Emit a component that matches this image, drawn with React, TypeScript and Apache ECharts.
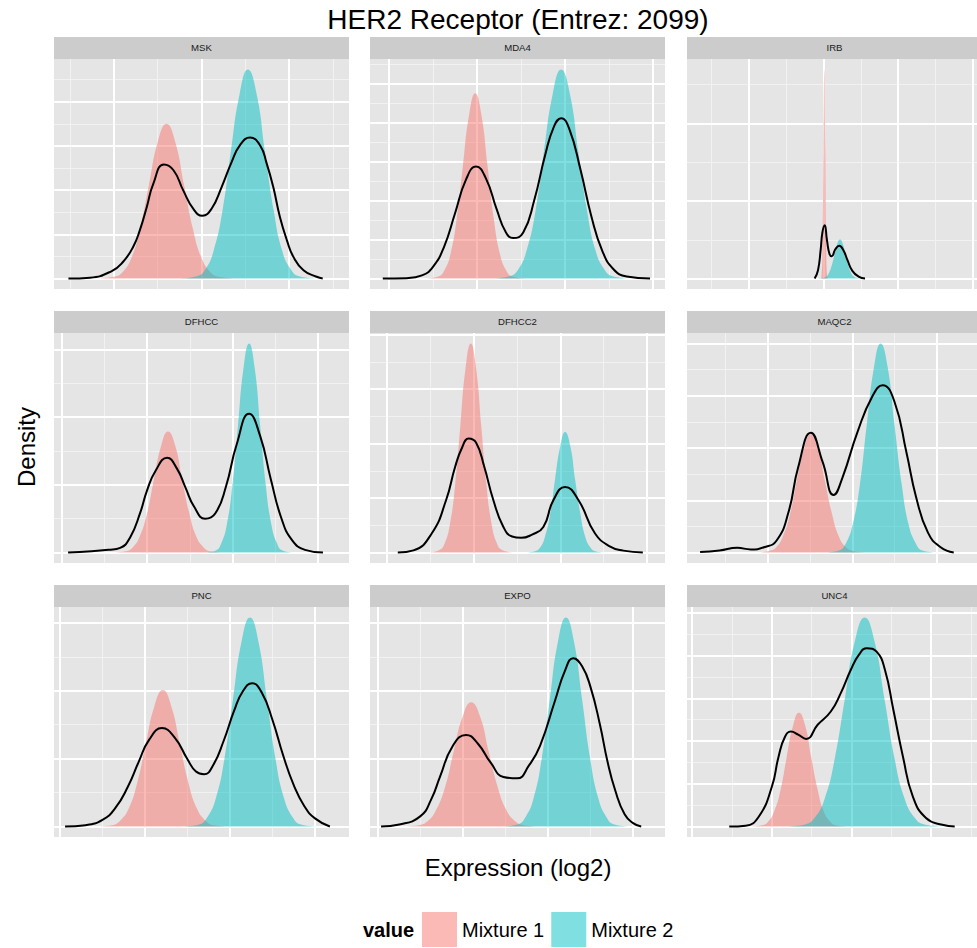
import React, { useEffect, useRef } from "react";
import * as echarts from "echarts";

// ---------------- data ----------------
const panelNames = ["MSK", "MDA4", "IRB", "DFHCC", "DFHCC2", "MAQC2", "PNC", "EXPO", "UNC4"];

// x-axis limits per panel (expression, log2)
const xLimits = [
  [4.63, 11.37], [5.57, 12.27], [2.34, 10.11],
  [3.82, 10.73], [3.62, 10.41], [4.09, 10.95],
  [3.86, 10.8], [3.81, 10.75], [3.87, 11.15],
];
// major break steps per panel
const xBreakStep = [2, 2, 2, 2, 2, 2, 2, 2, 2];
const yBreakStep = [0.1, 0.1, 2, 0.1, 0.2, 0.1, 0.1, 0.1, 0.1];

const mskM1 = [[5.6,0],[6.0,0.004],[6.2,0.015],[6.4,0.047],[6.6,0.114],[6.8,0.212],[7.0,0.309],[7.2,0.35],[7.4,0.309],[7.6,0.212],[7.8,0.114],[8.0,0.047],[8.2,0.015],[8.4,0.004],[8.8,0]];
const mskM2 = [[7.5,0],[7.89,0.005],[8.09,0.021],[8.28,0.064],[8.48,0.154],[8.67,0.287],[8.87,0.417],[9.06,0.473],[9.26,0.417],[9.45,0.287],[9.65,0.154],[9.84,0.064],[10.04,0.021],[10.23,0.005],[10.62,0]];
const mskTotal = [[4.96,0],[5.45,0.002],[5.95,0.017],[6.21,0.038],[6.44,0.072],[6.59,0.109],[6.75,0.162],[6.9,0.215],[7.14,0.258],[7.36,0.245],[7.58,0.2],[7.81,0.158],[8.02,0.142],[8.23,0.158],[8.46,0.207],[8.69,0.264],[8.88,0.302],[9.11,0.319],[9.34,0.301],[9.49,0.26],[9.64,0.207],[9.79,0.14],[9.95,0.087],[10.1,0.049],[10.33,0.019],[10.63,0.004],[10.77,0]];

const mda4M1 = [[6.84,0],[7.12,0.005],[7.26,0.021],[7.4,0.064],[7.54,0.155],[7.68,0.289],[7.82,0.42],[7.96,0.476],[8.1,0.42],[8.24,0.289],[8.38,0.155],[8.52,0.064],[8.66,0.021],[8.8,0.005],[9.08,0]];
const mda4M2 = [[8.35,0],[8.74,0.006],[8.94,0.024],[9.13,0.073],[9.33,0.174],[9.52,0.326],[9.72,0.474],[9.91,0.537],[10.11,0.474],[10.3,0.326],[10.5,0.174],[10.69,0.073],[10.89,0.024],[11.08,0.006],[11.47,0]];
const mda4Total = [[5.86,0],[6.4,0.001],[6.75,0.008],[7.0,0.03],[7.25,0.081],[7.5,0.167],[7.75,0.254],[7.98,0.288],[8.2,0.258],[8.45,0.177],[8.65,0.12],[8.82,0.104],[9.05,0.118],[9.3,0.201],[9.55,0.318],[9.75,0.391],[9.91,0.412],[10.1,0.383],[10.35,0.28],[10.6,0.159],[10.85,0.07],[11.1,0.024],[11.4,0.005],[11.93,0]];

const irbM1 = [[5.92,0],[5.945,0.06],[5.97,0.73],[5.995,3.27],[6.02,5.39],[6.045,3.27],[6.07,0.73],[6.095,0.06],[6.12,0]];
const irbM2 = [[5.84,0],[5.99,0.011],[6.065,0.044],[6.14,0.136],[6.215,0.327],[6.29,0.61],[6.365,0.888],[6.44,1.006],[6.515,0.888],[6.59,0.61],[6.665,0.327],[6.74,0.136],[6.815,0.044],[6.89,0.011],[7.04,0]];
const irbTotal = [[5.76,0],[5.85,0.214],[5.92,0.731],[5.97,1.204],[6.03,1.376],[6.09,0.989],[6.16,0.628],[6.22,0.576],[6.31,0.748],[6.42,0.843],[6.53,0.731],[6.64,0.473],[6.77,0.198],[6.95,0.043],[7.11,0]];

const dfhccM1 = [[5.17,0],[5.5,0.002],[5.67,0.008],[5.83,0.024],[6.0,0.058],[6.16,0.108],[6.33,0.158],[6.49,0.179],[6.66,0.158],[6.82,0.108],[6.99,0.058],[7.15,0.024],[7.32,0.008],[7.48,0.002],[7.81,0]];
const dfhccM2 = [[7.35,0],[7.61,0.003],[7.74,0.014],[7.87,0.042],[8.0,0.1],[8.13,0.187],[8.26,0.273],[8.39,0.309],[8.52,0.273],[8.65,0.187],[8.78,0.1],[8.91,0.042],[9.04,0.014],[9.17,0.003],[9.43,0]];
const dfhccTotal = [[4.15,0],[4.7,0.002],[5.1,0.004],[5.37,0.007],[5.6,0.022],[5.84,0.059],[6.0,0.092],[6.2,0.121],[6.47,0.14],[6.7,0.124],[6.9,0.096],[7.1,0.068],[7.36,0.05],[7.6,0.058],[7.85,0.098],[8.1,0.16],[8.39,0.205],[8.65,0.172],[8.9,0.108],[9.15,0.05],[9.4,0.018],[9.7,0.004],[10.12,0]];

const dfhcc2M1 = [[4.98,0],[5.22,0.009],[5.34,0.034],[5.46,0.104],[5.58,0.249],[5.7,0.466],[5.82,0.678],[5.94,0.768],[6.06,0.678],[6.18,0.466],[6.3,0.249],[6.42,0.104],[6.54,0.034],[6.66,0.009],[6.9,0]];
const dfhcc2M2 = [[7.19,0],[7.42,0.005],[7.54,0.019],[7.65,0.06],[7.77,0.144],[7.88,0.269],[8.0,0.391],[8.11,0.443],[8.23,0.391],[8.34,0.269],[8.46,0.144],[8.57,0.06],[8.69,0.019],[8.8,0.005],[9.03,0]];
const dfhcc2Total = [[4.26,0],[4.62,0.008],[5.04,0.07],[5.37,0.192],[5.58,0.315],[5.74,0.386],[5.89,0.419],[6.06,0.404],[6.25,0.315],[6.46,0.192],[6.69,0.094],[6.89,0.059],[7.1,0.054],[7.35,0.066],[7.61,0.094],[7.84,0.192],[8.11,0.241],[8.42,0.192],[8.8,0.07],[9.15,0.022],[9.45,0.007],[9.9,0]];

const maqc2M1 = [[5.7,0],[6.03,0.003],[6.2,0.01],[6.36,0.031],[6.53,0.074],[6.69,0.138],[6.86,0.2],[7.02,0.227],[7.19,0.2],[7.35,0.138],[7.52,0.074],[7.68,0.031],[7.85,0.01],[8.01,0.003],[8.34,0]];
const maqc2M2 = [[7.35,0],[7.68,0.004],[7.85,0.018],[8.01,0.054],[8.18,0.13],[8.34,0.243],[8.51,0.353],[8.67,0.4],[8.84,0.353],[9.0,0.243],[9.17,0.13],[9.33,0.054],[9.5,0.018],[9.66,0.004],[9.99,0]];
const maqc2Total = [[4.4,0.001],[4.86,0.004],[5.28,0.009],[5.6,0.006],[5.91,0.01],[6.21,0.023],[6.49,0.077],[6.72,0.163],[7.02,0.229],[7.3,0.173],[7.56,0.11],[7.77,0.144],[8.12,0.23],[8.47,0.298],[8.72,0.32],[9.0,0.288],[9.28,0.192],[9.51,0.106],[9.79,0.038],[10.09,0.01],[10.4,0]];

const pncM1 = [[4.82,0],[5.22,0.002],[5.42,0.009],[5.62,0.027],[5.82,0.065],[6.02,0.122],[6.22,0.177],[6.42,0.201],[6.62,0.177],[6.82,0.122],[7.02,0.065],[7.22,0.027],[7.42,0.009],[7.62,0.002],[8.02,0]];
const pncM2 = [[6.87,0],[7.27,0.003],[7.47,0.014],[7.67,0.042],[7.87,0.1],[8.07,0.187],[8.27,0.272],[8.47,0.308],[8.67,0.272],[8.87,0.187],[9.07,0.1],[9.27,0.042],[9.47,0.014],[9.67,0.003],[10.07,0]];
const pncTotal = [[4.12,0],[4.6,0.002],[5.0,0.01],[5.3,0.027],[5.6,0.059],[5.85,0.095],[6.1,0.128],[6.4,0.145],[6.7,0.131],[7.0,0.099],[7.2,0.081],[7.39,0.077],[7.6,0.09],[7.85,0.126],[8.1,0.171],[8.3,0.199],[8.52,0.211],[8.75,0.197],[9.0,0.157],[9.25,0.105],[9.5,0.061],[9.75,0.03],[10.0,0.012],[10.35,0]];

const expoM1 = [[4.55,0],[4.96,0.002],[5.17,0.008],[5.37,0.025],[5.58,0.059],[5.78,0.111],[5.99,0.162],[6.19,0.183],[6.4,0.162],[6.6,0.111],[6.81,0.059],[7.01,0.025],[7.22,0.008],[7.42,0.002],[7.83,0]];
const expoM2 = [[6.9,0],[7.28,0.003],[7.47,0.014],[7.66,0.042],[7.85,0.1],[8.04,0.187],[8.23,0.272],[8.42,0.308],[8.61,0.272],[8.8,0.187],[8.99,0.1],[9.18,0.042],[9.37,0.014],[9.56,0.003],[9.94,0]];
const expoTotal = [[4.07,0],[4.5,0.003],[4.99,0.015],[5.25,0.04],[5.46,0.074],[5.75,0.118],[6.07,0.135],[6.35,0.122],[6.65,0.094],[6.95,0.073],[7.27,0.071],[7.55,0.09],[7.81,0.119],[8.16,0.185],[8.4,0.23],[8.59,0.248],[8.8,0.236],[9.0,0.205],[9.22,0.15],[9.4,0.095],[9.58,0.053],[9.8,0.018],[10.0,0.005],[10.19,0]];

const unc4M1 = [[5.44,0],[5.75,0.003],[5.91,0.012],[6.06,0.036],[6.22,0.086],[6.37,0.161],[6.53,0.235],[6.68,0.266],[6.84,0.235],[6.99,0.161],[7.15,0.086],[7.3,0.036],[7.46,0.012],[7.61,0.003],[7.92,0]];
const unc4M2 = [[6.33,0],[6.83,0.005],[7.08,0.021],[7.33,0.066],[7.58,0.159],[7.83,0.297],[8.08,0.432],[8.33,0.489],[8.58,0.432],[8.83,0.297],[9.08,0.159],[9.33,0.066],[9.58,0.021],[9.83,0.005],[10.33,0]];
const unc4Total = [[4.93,0],[5.34,0.002],[5.67,0.023],[6.0,0.093],[6.17,0.164],[6.33,0.21],[6.48,0.222],[6.66,0.215],[6.86,0.205],[7.15,0.238],[7.48,0.269],[7.73,0.312],[7.98,0.366],[8.18,0.401],[8.39,0.417],[8.63,0.409],[8.84,0.366],[9.05,0.273],[9.29,0.164],[9.54,0.07],[9.87,0.02],[10.28,0.004],[10.59,0]];

const mixture1 = [mskM1, mda4M1, irbM1, dfhccM1, dfhcc2M1, maqc2M1, pncM1, expoM1, unc4M1];
const mixture2 = [mskM2, mda4M2, irbM2, dfhccM2, dfhcc2M2, maqc2M2, pncM2, expoM2, unc4M2];
const totals = [mskTotal, mda4Total, irbTotal, dfhccTotal, dfhcc2Total, maqc2Total, pncTotal, expoTotal, unc4Total];

const legendNames = ["Mixture 1", "Mixture 2"];

// ---------------- layout / style ----------------
const FONT = '"Liberation Sans", Arial, Helvetica, sans-serif';
const COL_LEFT = [54, 370, 687];
const ROW_TOP = [59, 333, 607];
const PANEL_W = 295;
const PANEL_H = 230;
const STRIP_H = 22;
const PINK = "#F8766D";
const CYAN = "#00BFC4";

function breaks(min: number, max: number, step: number) {
  const major: number[] = [];
  const minor: number[] = [];
  const k0 = Math.ceil(min / step - 1e-9);
  for (let k = k0; k * step <= max + 1e-9; k++) major.push(+(k * step).toFixed(8));
  const m0 = Math.floor(min / step) - 1;
  for (let k = m0; (k + 0.5) * step <= max; k++) {
    const v = +((k + 0.5) * step).toFixed(8);
    if (v >= min) minor.push(v);
  }
  return { major, minor };
}

function buildOption() {
  const grid: any[] = [];
  const xAxis: any[] = [];
  const yAxis: any[] = [];
  const series: any[] = [];
  const graphic: any[] = [];

  panelNames.forEach((name, i) => {
    const col = i % 3;
    const row = Math.floor(i / 3);
    const left = COL_LEFT[col];
    const top = ROW_TOP[row];
    grid.push({ left, top, width: PANEL_W, height: PANEL_H, show: true, backgroundColor: "#E5E5E5", borderWidth: 0 });

    const [xmin, xmax] = xLimits[i];
    const allY = [...mixture1[i], ...mixture2[i], ...totals[i]].map((p) => p[1]);
    const yTop = Math.max(...allY);
    const ymin = -0.05 * yTop;
    const ymax = 1.05 * yTop;
    xAxis.push({ gridIndex: i, type: "value", min: xmin, max: xmax, show: false });
    yAxis.push({ gridIndex: i, type: "value", min: ymin, max: ymax, show: false });

    const xb = breaks(xmin, xmax, xBreakStep[i]);
    const yb = breaks(ymin, ymax, yBreakStep[i]);
    const minorStyle = { color: "#F2F2F2", width: 1, type: "solid" };
    const majorStyle = { color: "#FFFFFF", width: 2, type: "solid" };
    const mlData = [
      ...xb.minor.map((v) => ({ xAxis: v, lineStyle: minorStyle })),
      ...yb.minor.map((v) => ({ yAxis: v, lineStyle: minorStyle })),
      ...xb.major.map((v) => ({ xAxis: v, lineStyle: majorStyle })),
      ...yb.major.map((v) => ({ yAxis: v, lineStyle: majorStyle })),
    ];
    series.push({
      type: "line",
      name: "grid" + i,
      xAxisIndex: i,
      yAxisIndex: i,
      data: [],
      silent: true,
      z: 1,
      markLine: {
        silent: true,
        z: 1,
        symbol: ["none", "none"],
        label: { show: false },
        emphasis: { disabled: true },
        animation: false,
        data: mlData,
      },
    });

    [mixture1[i], mixture2[i]].forEach((d, k) => {
      const c = k === 0 ? PINK : CYAN;
      series.push({
        type: "line",
        name: legendNames[k],
        xAxisIndex: i,
        yAxisIndex: i,
        data: d,
        smooth: 0.5,
        symbol: "none",
        showSymbol: false,
        silent: true,
        lineStyle: { width: 0, color: c, opacity: 0 },
        itemStyle: { color: c },
        areaStyle: { color: c, opacity: 0.5 },
        z: 2 + k,
      });
    });

    series.push({
      type: "line",
      name: "Total density",
      xAxisIndex: i,
      yAxisIndex: i,
      data: totals[i],
      smooth: 0.5,
      symbol: "none",
      showSymbol: false,
      silent: true,
      lineStyle: { color: "#000000", width: 2 },
      itemStyle: { color: "#000000" },
      z: 4,
    });

    graphic.push({
      type: "rect",
      silent: true,
      shape: { x: left, y: top - STRIP_H, width: PANEL_W, height: STRIP_H },
      style: { fill: "#CCCCCC" },
    });
    graphic.push({
      type: "text",
      silent: true,
      x: left + PANEL_W / 2,
      y: top - STRIP_H / 2 - 0.5,
      style: { text: name, fontSize: 9.6, fill: "#1A1A1A", align: "center", verticalAlign: "middle", fontFamily: FONT },
    });
  });

  graphic.push({
    type: "text",
    silent: true,
    x: 518,
    y: 19.5,
    style: { text: "HER2 Receptor (Entrez: 2099)", fontSize: 28, fill: "#000", align: "center", verticalAlign: "middle", fontFamily: FONT },
  });
  graphic.push({
    type: "text",
    silent: true,
    x: 518,
    y: 867,
    style: { text: "Expression (log2)", fontSize: 24, fill: "#000", align: "center", verticalAlign: "middle", fontFamily: FONT },
  });
  graphic.push({
    type: "text",
    silent: true,
    x: 26.5,
    y: 447,
    rotation: Math.PI / 2,
    style: { text: "Density", fontSize: 24, fill: "#000", align: "center", verticalAlign: "middle", fontFamily: FONT },
  });
  graphic.push({
    type: "text",
    silent: true,
    x: 363,
    y: 929.5,
    style: { text: "value", fontSize: 20, fontWeight: "bold", fill: "#000", align: "left", verticalAlign: "middle", fontFamily: FONT },
  });

  return {
    animation: false,
    backgroundColor: "#FFFFFF",
    grid,
    xAxis,
    yAxis,
    series,
    graphic,
    legend: {
      data: [
        { name: legendNames[0], itemStyle: { color: "rgba(248,118,109,0.5)", borderWidth: 0 } },
        { name: legendNames[1], itemStyle: { color: "rgba(0,191,196,0.5)", borderWidth: 0 } },
      ],
      icon: "rect",
      itemWidth: 35,
      itemHeight: 35,
      itemGap: 7,
      left: 422,
      top: 912,
      padding: 0,
      selectedMode: false,
      textStyle: { fontSize: 20, color: "#000", fontFamily: FONT },
    },
  };
}

export default function App() {
  const ref = useRef<HTMLDivElement>(null);
  useEffect(() => {
    document.body.style.margin = "0";
    const chart = echarts.init(ref.current as HTMLDivElement, null, { renderer: "svg" });
    chart.setOption(buildOption() as any);
    return () => chart.dispose();
  }, []);
  return <div ref={ref} style={{ width: 977, height: 948 }} />;
}
